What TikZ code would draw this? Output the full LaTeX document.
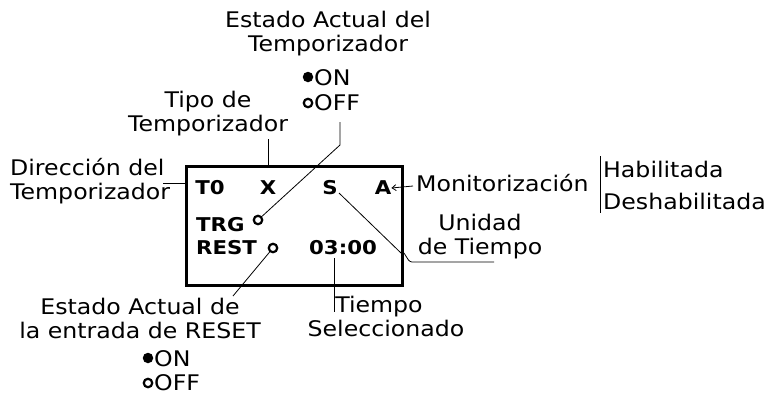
\documentclass[tikz,border=0pt]{standalone}
\usepackage{fontspec}
\setmainfont{DejaVu Sans}[FakeStretch=1.1]
\newfontfamily\boxfont{DejaVu Sans}[FakeStretch=1.12]
\usetikzlibrary{arrows.meta}
\begin{document}
\begin{tikzpicture}[x=1pt,y=-1pt,
  lbl/.style={inner sep=0pt,font=\fontsize{21.5}{24}\selectfont,align=center},
  lbll/.style={lbl,align=left},
  bx/.style={inner sep=0pt,font=\boxfont\bfseries\fontsize{19}{20}\selectfont},
  thin/.style={line width=0.8pt},
  frame/.style={line width=3pt},
  ring/.style={circle,draw,line width=2.2pt,minimum size=8.5pt,inner sep=0pt},
  dotf/.style={circle,fill,minimum size=10.5pt,inner sep=0pt}]
\useasboundingbox (0,0) rectangle (771,397);
% box
\draw[frame] (186,166) rectangle (402,285);
% labels top
\node[lbl] (estT) at (328,34) {Estado Actual del\\Temporizador};
\node[dotf] (dOnT) at (308,77) {};
\node[lbl,anchor=west] (onT) at (314,78) {ON};
\node[ring] (dOffT) at (308,103) {};
\node[lbl,anchor=west] (offT) at (314,103) {OFF};
\node[lbl] (tipo) at (208,114) {Tipo de\\Temporizador};
\node[lbll,anchor=west] (dir) at (10,181) {Dirección del\\Temporizador};
% box contents
\node[bx] (t0) at (210,188) {T0};
\node[bx] (xx) at (268,188) {X};
\node[bx] (ss) at (330,188) {S};
\node[bx] (aa) at (383,188) {A};
\node[bx,anchor=west] (trg) at (196,225) {TRG};
\node[ring] (rTrg) at (258,220) {};
\node[bx,anchor=west] (rest) at (196,248) {REST};
\node[ring] (rRest) at (273,248) {};
\node[bx] (time) at (343,248) {03:00};
% right labels
\node[lbl,anchor=west] (mon) at (416,183) {Monitorización};
\node[lbl,anchor=west] (hab) at (603,169) {Habilitada};
\node[lbl,anchor=west] (desh) at (603,201) {Deshabilitada};
\node[lbl] (unid) at (480,237) {Unidad\\de Tiempo};
% bottom labels
\node[lbl] (estR) at (140,318) {Estado Actual de\\la entrada de RESET};
\node[dotf] (dOnR) at (148,358) {};
\node[lbl,anchor=west] (onR) at (154,359) {ON};
\node[ring] (dOffR) at (148,383) {};
\node[lbl,anchor=west] (offR) at (154,383) {OFF};
\node[lbl] (tiempo) at (386,316) {\hspace*{-14pt}Tiempo\\Seleccionado};
% connectors
\coordinate (xTop) at (268,139);
\coordinate (xBox) at (268,166);
\draw[thin] (xTop) -- (xBox);
\coordinate (offA) at (340,122);
\coordinate (offB) at (340,145);
\draw[thin] (offA) -- (offB) -- (rTrg);
\coordinate (dirA) at (163,183);
\coordinate (dirB) at (186,183);
\draw[thin] (dirA) -- (dirB);
\coordinate (monA) at (413,186);
\draw[thin,-{Straight Barb[length=4pt,width=6pt]}] (monA) -- (aa.east);
\coordinate (barA) at (600,156);
\coordinate (barB) at (600,213);
\draw[thin] (barA) -- (barB);
\coordinate (sA) at (339,193);
\coordinate (sB) at (401,253);
\coordinate (sC) at (412,262);
\coordinate (sD) at (494,262);
\draw[thin] (sA) -- (sB) to[out=45,in=180] (sC) -- (sD);
\coordinate (rA) at (233,296);
\draw[thin] (rRest) -- (rA);
\coordinate (tA) at (334,258);
\coordinate (tB) at (334,312);
\draw[thin] (tA) -- (tB);
\end{tikzpicture}
\end{document}
